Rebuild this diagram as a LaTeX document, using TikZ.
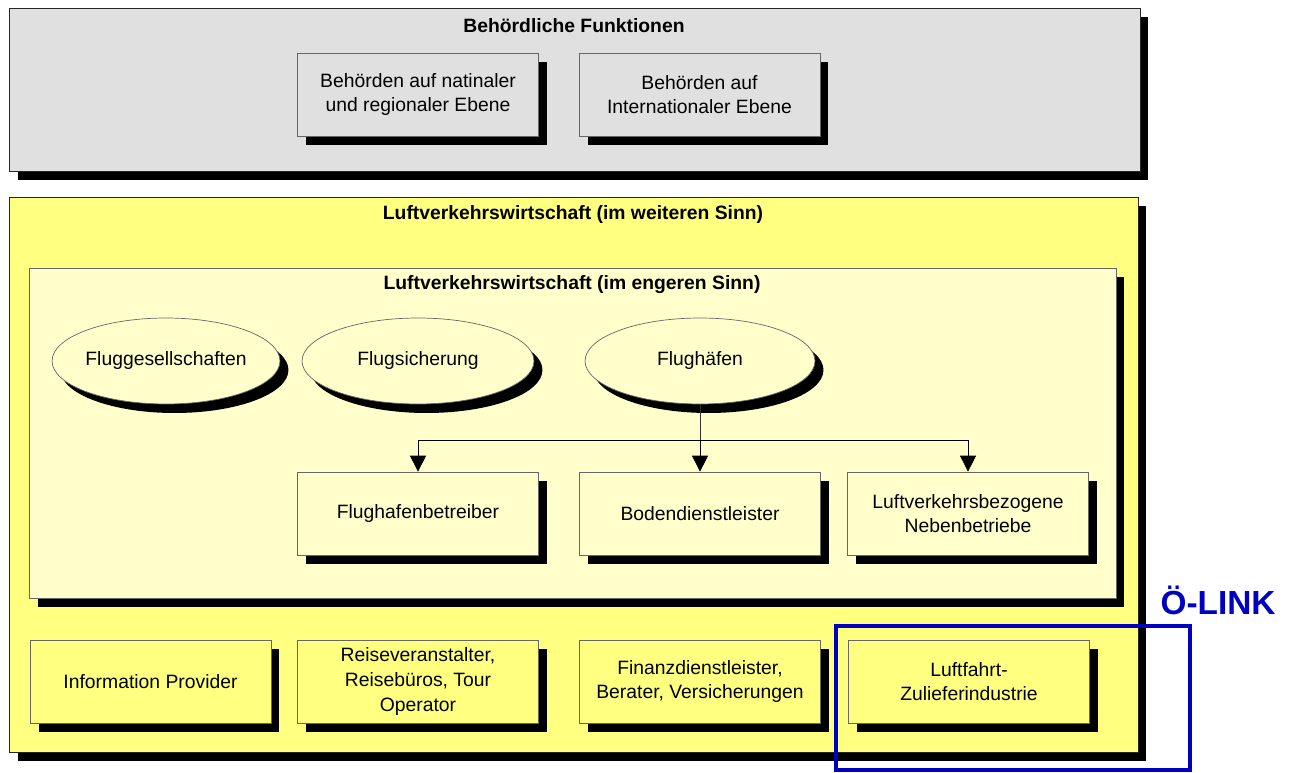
\documentclass[tikz,border=0pt]{standalone}
\usepackage{fontspec}
\setmainfont{Liberation Sans}
\usepackage{xcolor}
\usetikzlibrary{shapes.geometric,shadows,arrows.meta}
\definecolor{behgrau}{HTML}{E0E0E0}
\definecolor{lvgelb}{HTML}{FFFF80}
\definecolor{lvhell}{HTML}{FFFFCC}
\definecolor{linkblau}{HTML}{0000C0}

\begin{document}
\begin{tikzpicture}[x=0.02cm,y=-0.02cm,font=\fontsize{11}{14}\selectfont,
  schatten/.style={drop shadow={shadow xshift=0.17cm,shadow yshift=-0.18cm,fill=black,opacity=1}},
  rahmen/.style={draw=black!85,schatten,rectangle,inner sep=0pt},
  kasten/.style={draw=black!60,schatten,rectangle,align=center,minimum width=4.82cm,minimum height=1.66cm,inner sep=2pt},
  oval/.style={draw=black!60,schatten,ellipse,fill=lvhell,minimum height=1.72cm,inner sep=0pt},
  titel/.style={font=\fontsize{11}{14}\selectfont\bfseries},
  pfeil/.style={-{Triangle[width=0.32cm,length=0.32cm]},draw=black}]
\useasboundingbox (0,0) rectangle (1290,773);

\node[rahmen,fill=behgrau,minimum width=22.62cm,minimum height=3.26cm] (behoerden) at (574.5,89.5) {};
\node[titel] (behtitel) at (574,26) {Behördliche Funktionen};
\node[kasten,fill=behgrau] (national) at (418,94.5) {Behörden auf natinaler\\und regionaler Ebene};
\node[kasten,fill=behgrau] (international) at (699.5,94.5) {Behörden auf\\Internationaler Ebene};

\node[rahmen,fill=lvgelb,minimum width=22.58cm,minimum height=11.1cm] (weit) at (573.5,474.5) {};
\node[titel] (weittitel) at (573,215) {Luftverkehrswirtschaft (im weiteren Sinn)};

\node[rahmen,draw=black!60,fill=lvhell,minimum width=21.74cm,minimum height=6.6cm] (eng) at (572.5,433) {};
\node[titel] (engtitel) at (572,285) {Luftverkehrswirtschaft (im engeren Sinn)};

\node[oval,minimum width=4.52cm] (gesellschaften) at (166,361) {Fluggesellschaften};
\node[oval,minimum width=4.64cm] (sicherung) at (418,361) {Flugsicherung};
\node[oval,minimum width=4.6cm] (flughaefen) at (700,361) {Flughäfen};

\node[kasten,fill=lvhell] (betreiber) at (418,513.5) {Flughafenbetreiber};
\node[kasten,fill=lvhell] (boden) at (700,513.5) {Bodendienstleister};
\node[kasten,fill=lvhell] (neben) at (968,513.5) {Luftverkehrsbezogene\\Nebenbetriebe};

\coordinate (verteiler) at (700,440);
\draw[draw=black!80] (flughaefen.south) -- (verteiler);
\draw[pfeil] (verteiler) -| (betreiber.north);
\draw[pfeil] (verteiler) -- (boden.north);
\draw[pfeil] (verteiler) -| (neben.north);

\node[kasten,fill=lvgelb] (provider) at (150.5,681.5) {Information Provider};
\node[kasten,fill=lvgelb] (reise) at (418,681.5) {Reiseveranstalter,\\Reisebüros, Tour\\Operator};
\node[kasten,fill=lvgelb] (finanz) at (700,681.5) {Finanzdienstleister,\\Berater, Versicherungen};
\node[kasten,fill=lvgelb] (zulieferer) at (969,681.5) {Luftfahrt-\\Zulieferindustrie};

\draw[linkblau,line width=2.8pt] (836,626) rectangle (1190,770);
\node[text=linkblau,font=\fontsize{19}{22}\selectfont\bfseries] (olink) at (1218,600) {Ö-LINK};
\end{tikzpicture}
\end{document}
